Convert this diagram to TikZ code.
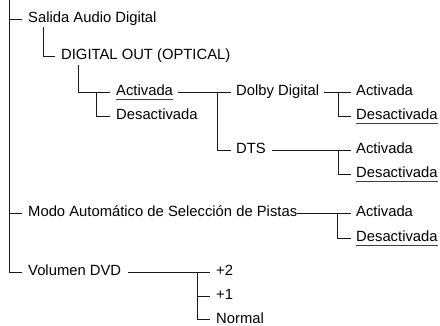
\documentclass[tikz,border=0pt]{standalone}
\usepackage{fontspec}
\setmainfont{Liberation Sans}
\begin{document}
\begin{tikzpicture}[x=1pt,y=-1pt,
  lbl/.style={anchor=west,inner sep=0pt,text height=8pt,text depth=0pt,font=\fontsize{14.8}{17}\selectfont},
  conn/.style={draw=black!90,line width=0.9pt},
  uline/.style={draw=black!75,line width=1pt}]
\useasboundingbox (0,0) rectangle (440,326);
% nodes
\node[lbl] (salida) at (28,19) {Salida Audio Digital};
\node[lbl] (digital) at (61,56) {DIGITAL OUT (OPTICAL)};
\node[lbl] (act1) at (116,92) {Activada};
\node[lbl] (des1) at (116,116) {Desactivada};
\node[lbl] (dolby) at (236,92) {Dolby Digital};
\node[lbl] (dts) at (236,150) {DTS};
\node[lbl] (dact) at (356,92) {Activada};
\node[lbl] (ddes) at (356,116) {Desactivada};
\node[lbl] (tact) at (356,150) {Activada};
\node[lbl] (tdes) at (356,174) {Desactivada};
\node[lbl] (modo) at (28,213) {Modo Automático de Selección de Pistas};
\node[lbl] (mact) at (356,213) {Activada};
\node[lbl] (mdes) at (356,238) {Desactivada};
\node[lbl] (vol) at (28,272) {Volumen DVD};
\node[lbl] (p2) at (216,272) {+2};
\node[lbl] (p1) at (216,296) {+1};
\node[lbl] (norm) at (216,319.5) {Normal};
% underlines
\foreach \n in {act1,ddes,tdes,mdes}
  \draw[uline] ([yshift=-3pt]\n.south west) -- ([yshift=-3pt]\n.south east);
% main trunk
\coordinate (top) at (9,0);
\draw[conn] (top) |- ([xshift=-6pt]vol.west);
\draw[conn] (top |- salida.west) -- ([xshift=-6pt]salida.west);
\draw[conn] (top |- modo.west) -- ([xshift=-6pt]modo.west);
% Salida
\draw[conn] ([xshift=15pt,yshift=-4pt]salida.south west) |- ([xshift=-6pt]digital.west);
% DIGITAL OUT
\draw[conn] ([xshift=17pt,yshift=-5pt]digital.south west) |- ([xshift=-6pt]act1.west);
\draw[conn] ([xshift=-20pt]act1.west) |- ([xshift=-6pt]des1.west);
% Activada -> Dolby / DTS
\draw[conn] ([xshift=5pt]act1.east) -- ([xshift=-5pt]dolby.west);
\draw[conn] ([xshift=-19pt]dolby.west) |- ([xshift=-5pt]dts.west);
% Dolby
\draw[conn] ([xshift=5pt]dolby.east) -- ([xshift=-5pt]dact.west);
\draw[conn] ([xshift=-18pt]dact.west) |- ([xshift=-5pt]ddes.west);
% DTS
\draw[conn] ([xshift=6pt]dts.east) -- ([xshift=-5pt]tact.west);
\draw[conn] ([xshift=-18pt]tact.west) |- ([xshift=-5pt]tdes.west);
% Modo
\draw[conn] (modo.east) -- ([xshift=-5pt]mact.west);
\draw[conn] ([xshift=-19pt]mact.west) |- ([xshift=-5pt]mdes.west);
% Volumen
\draw[conn] ([xshift=7pt]vol.east) -- ([xshift=-6pt]p2.west);
\coordinate (vbar) at ([xshift=-19pt]p2.west);
\draw[conn] (vbar) |- ([xshift=-6pt]norm.west);
\draw[conn] (vbar |- p1.west) -- ([xshift=-6pt]p1.west);
\end{tikzpicture}
\end{document}
